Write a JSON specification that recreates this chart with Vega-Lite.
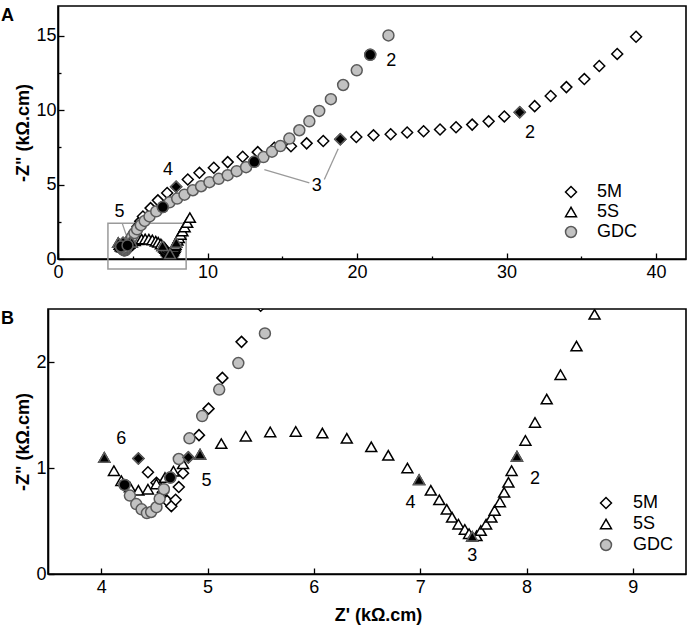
{
  "$schema": "https://vega.github.io/schema/vega-lite/v6.json",
  "padding": {"left": 0, "top": 5, "right": 2, "bottom": 2},
  "background": "white",
  "columns": 1,
  "spacing": 24,
  "config": {
    "font": "Liberation Sans",
    "view": {"stroke": "black", "strokeWidth": 1.6},
    "axis": {
      "grid": false, "domainColor": "black", "domainWidth": 1.6,
      "tickColor": "black", "tickWidth": 1.3,
      "labelFont": "Liberation Sans", "labelFontSize": 18, "labelColor": "black",
      "titleFont": "Liberation Sans", "titleFontSize": 18, "titleFontWeight": "bold", "titleColor": "black",
      "labelFlush": false, "labelOverlap": false
    },
    "legend": {
      "title": null, "symbolSize": 120, "symbolStrokeWidth": 1.5, "labelFontSize": 18,
      "labelFont": "Liberation Sans", "labelColor": "black", "padding": 0
    },
    "title": {"font": "Liberation Sans", "fontSize": 18, "fontWeight": "bold", "color": "black"}
  },
  "datasets": {
    "pts": [
      {"series": "5M", "x": 4.35, "y": 1.09, "m": 1},
      {"series": "5M", "x": 4.44, "y": 0.96, "m": 0},
      {"series": "5M", "x": 4.52, "y": 0.86, "m": 0},
      {"series": "5M", "x": 4.58, "y": 0.77, "m": 0},
      {"series": "5M", "x": 4.62, "y": 0.69, "m": 0},
      {"series": "5M", "x": 4.66, "y": 0.64, "m": 0},
      {"series": "5M", "x": 4.70, "y": 0.70, "m": 0},
      {"series": "5M", "x": 4.73, "y": 0.82, "m": 0},
      {"series": "5M", "x": 4.77, "y": 0.95, "m": 0},
      {"series": "5M", "x": 4.82, "y": 1.10, "m": 1},
      {"series": "5M", "x": 4.92, "y": 1.31, "m": 0},
      {"series": "5M", "x": 5.01, "y": 1.56, "m": 0},
      {"series": "5M", "x": 5.14, "y": 1.85, "m": 0},
      {"series": "5M", "x": 5.32, "y": 2.19, "m": 0},
      {"series": "5M", "x": 5.50, "y": 2.53, "m": 0},
      {"series": "5M", "x": 5.68, "y": 2.86, "m": 0},
      {"series": "5M", "x": 6.19, "y": 3.42, "m": 0},
      {"series": "5M", "x": 6.68, "y": 3.94, "m": 0},
      {"series": "5M", "x": 7.30, "y": 4.44, "m": 0},
      {"series": "5M", "x": 7.90, "y": 4.85, "m": 1},
      {"series": "5M", "x": 8.68, "y": 5.34, "m": 0},
      {"series": "5M", "x": 9.46, "y": 5.79, "m": 0},
      {"series": "5M", "x": 10.42, "y": 6.13, "m": 0},
      {"series": "5M", "x": 11.35, "y": 6.51, "m": 0},
      {"series": "5M", "x": 12.35, "y": 6.87, "m": 0},
      {"series": "5M", "x": 13.36, "y": 7.18, "m": 0},
      {"series": "5M", "x": 14.47, "y": 7.48, "m": 0},
      {"series": "5M", "x": 15.58, "y": 7.58, "m": 0},
      {"series": "5M", "x": 16.63, "y": 7.77, "m": 0},
      {"series": "5M", "x": 17.74, "y": 7.93, "m": 0},
      {"series": "5M", "x": 18.88, "y": 8.05, "m": 1},
      {"series": "5M", "x": 19.95, "y": 8.2, "m": 0},
      {"series": "5M", "x": 21.1, "y": 8.31, "m": 0},
      {"series": "5M", "x": 22.25, "y": 8.38, "m": 0},
      {"series": "5M", "x": 23.35, "y": 8.5, "m": 0},
      {"series": "5M", "x": 24.45, "y": 8.58, "m": 0},
      {"series": "5M", "x": 25.55, "y": 8.7, "m": 0},
      {"series": "5M", "x": 26.62, "y": 8.85, "m": 0},
      {"series": "5M", "x": 27.7, "y": 9.03, "m": 0},
      {"series": "5M", "x": 28.8, "y": 9.25, "m": 0},
      {"series": "5M", "x": 29.85, "y": 9.58, "m": 0},
      {"series": "5M", "x": 30.88, "y": 9.86, "m": 1},
      {"series": "5M", "x": 31.88, "y": 10.27, "m": 0},
      {"series": "5M", "x": 32.95, "y": 10.95, "m": 0},
      {"series": "5M", "x": 34.0, "y": 11.55, "m": 0},
      {"series": "5M", "x": 35.2, "y": 12.09, "m": 0},
      {"series": "5M", "x": 36.2, "y": 12.97, "m": 0},
      {"series": "5M", "x": 37.4, "y": 13.78, "m": 0},
      {"series": "5M", "x": 38.66, "y": 14.93, "m": 0},
      {"series": "5S", "x": 4.03, "y": 1.10, "m": 1},
      {"series": "5S", "x": 4.12, "y": 0.975, "m": 0},
      {"series": "5S", "x": 4.19, "y": 0.88, "m": 0},
      {"series": "5S", "x": 4.27, "y": 0.82, "m": 0},
      {"series": "5S", "x": 4.35, "y": 0.79, "m": 0},
      {"series": "5S", "x": 4.44, "y": 0.80, "m": 0},
      {"series": "5S", "x": 4.52, "y": 0.85, "m": 0},
      {"series": "5S", "x": 4.60, "y": 0.91, "m": 0},
      {"series": "5S", "x": 4.68, "y": 0.97, "m": 0},
      {"series": "5S", "x": 4.77, "y": 1.04, "m": 0},
      {"series": "5S", "x": 4.93, "y": 1.13, "m": 1},
      {"series": "5S", "x": 5.13, "y": 1.23, "m": 0},
      {"series": "5S", "x": 5.36, "y": 1.30, "m": 0},
      {"series": "5S", "x": 5.59, "y": 1.34, "m": 0},
      {"series": "5S", "x": 5.83, "y": 1.345, "m": 0},
      {"series": "5S", "x": 6.08, "y": 1.33, "m": 0},
      {"series": "5S", "x": 6.31, "y": 1.28, "m": 0},
      {"series": "5S", "x": 6.54, "y": 1.20, "m": 0},
      {"series": "5S", "x": 6.70, "y": 1.12, "m": 0},
      {"series": "5S", "x": 6.88, "y": 1.00, "m": 0},
      {"series": "5S", "x": 6.99, "y": 0.89, "m": 1},
      {"series": "5S", "x": 7.10, "y": 0.79, "m": 0},
      {"series": "5S", "x": 7.18, "y": 0.70, "m": 0},
      {"series": "5S", "x": 7.25, "y": 0.61, "m": 0},
      {"series": "5S", "x": 7.30, "y": 0.535, "m": 0},
      {"series": "5S", "x": 7.36, "y": 0.47, "m": 0},
      {"series": "5S", "x": 7.42, "y": 0.42, "m": 0},
      {"series": "5S", "x": 7.46, "y": 0.38, "m": 0},
      {"series": "5S", "x": 7.49, "y": 0.355, "m": 1},
      {"series": "5S", "x": 7.53, "y": 0.36, "m": 0},
      {"series": "5S", "x": 7.57, "y": 0.41, "m": 0},
      {"series": "5S", "x": 7.62, "y": 0.47, "m": 0},
      {"series": "5S", "x": 7.67, "y": 0.535, "m": 0},
      {"series": "5S", "x": 7.70, "y": 0.60, "m": 0},
      {"series": "5S", "x": 7.75, "y": 0.68, "m": 0},
      {"series": "5S", "x": 7.79, "y": 0.77, "m": 0},
      {"series": "5S", "x": 7.83, "y": 0.865, "m": 0},
      {"series": "5S", "x": 7.86, "y": 0.975, "m": 0},
      {"series": "5S", "x": 7.91, "y": 1.11, "m": 1},
      {"series": "5S", "x": 7.99, "y": 1.26, "m": 0},
      {"series": "5S", "x": 8.08, "y": 1.43, "m": 0},
      {"series": "5S", "x": 8.19, "y": 1.65, "m": 0},
      {"series": "5S", "x": 8.32, "y": 1.88, "m": 0},
      {"series": "5S", "x": 8.47, "y": 2.15, "m": 0},
      {"series": "5S", "x": 8.64, "y": 2.45, "m": 0},
      {"series": "5S", "x": 8.82, "y": 2.78, "m": 0},
      {"series": "GDC", "x": 4.22, "y": 0.84, "m": 1},
      {"series": "GDC", "x": 4.27, "y": 0.74, "m": 0},
      {"series": "GDC", "x": 4.33, "y": 0.66, "m": 0},
      {"series": "GDC", "x": 4.38, "y": 0.61, "m": 0},
      {"series": "GDC", "x": 4.43, "y": 0.575, "m": 0},
      {"series": "GDC", "x": 4.47, "y": 0.585, "m": 0},
      {"series": "GDC", "x": 4.52, "y": 0.63, "m": 0},
      {"series": "GDC", "x": 4.55, "y": 0.71, "m": 0},
      {"series": "GDC", "x": 4.59, "y": 0.80, "m": 0},
      {"series": "GDC", "x": 4.65, "y": 0.91, "m": 1},
      {"series": "GDC", "x": 4.73, "y": 1.085, "m": 0},
      {"series": "GDC", "x": 4.83, "y": 1.28, "m": 0},
      {"series": "GDC", "x": 4.95, "y": 1.49, "m": 0},
      {"series": "GDC", "x": 5.11, "y": 1.74, "m": 0},
      {"series": "GDC", "x": 5.29, "y": 1.99, "m": 0},
      {"series": "GDC", "x": 5.54, "y": 2.27, "m": 0},
      {"series": "GDC", "x": 5.80, "y": 2.56, "m": 0},
      {"series": "GDC", "x": 6.12, "y": 2.86, "m": 0},
      {"series": "GDC", "x": 6.57, "y": 3.2, "m": 0},
      {"series": "GDC", "x": 7.01, "y": 3.49, "m": 1},
      {"series": "GDC", "x": 7.46, "y": 3.81, "m": 0},
      {"series": "GDC", "x": 7.97, "y": 4.06, "m": 0},
      {"series": "GDC", "x": 8.46, "y": 4.32, "m": 0},
      {"series": "GDC", "x": 9.02, "y": 4.62, "m": 0},
      {"series": "GDC", "x": 9.57, "y": 4.89, "m": 0},
      {"series": "GDC", "x": 10.13, "y": 5.16, "m": 0},
      {"series": "GDC", "x": 10.75, "y": 5.39, "m": 0},
      {"series": "GDC", "x": 11.35, "y": 5.63, "m": 0},
      {"series": "GDC", "x": 11.95, "y": 5.9, "m": 0},
      {"series": "GDC", "x": 12.58, "y": 6.17, "m": 0},
      {"series": "GDC", "x": 13.13, "y": 6.53, "m": 1},
      {"series": "GDC", "x": 13.74, "y": 6.85, "m": 0},
      {"series": "GDC", "x": 14.31, "y": 7.21, "m": 0},
      {"series": "GDC", "x": 14.87, "y": 7.59, "m": 0},
      {"series": "GDC", "x": 15.47, "y": 8.09, "m": 0},
      {"series": "GDC", "x": 16.14, "y": 8.65, "m": 0},
      {"series": "GDC", "x": 16.81, "y": 9.25, "m": 0},
      {"series": "GDC", "x": 17.47, "y": 9.95, "m": 0},
      {"series": "GDC", "x": 18.25, "y": 10.74, "m": 0},
      {"series": "GDC", "x": 19.07, "y": 11.69, "m": 0},
      {"series": "GDC", "x": 19.98, "y": 12.68, "m": 0},
      {"series": "GDC", "x": 20.88, "y": 13.72, "m": 1},
      {"series": "GDC", "x": 22.1, "y": 15.02, "m": 0}
    ],
    "labelsA": [
      {"x": 7.35, "y": 6.0, "t": "4"},
      {"x": 4.12, "y": 3.13, "t": "5"},
      {"x": 17.3, "y": 4.89, "t": "3"},
      {"x": 22.28, "y": 13.33, "t": "2"},
      {"x": 31.56, "y": 8.49, "t": "2"}
    ],
    "leadersA": [
      {"x": 13.8, "y": 6.01, "xe": 16.81, "ye": 5.11},
      {"x": 17.81, "y": 5.34, "xe": 18.74, "ye": 7.41},
      {"x": 4.29, "y": 2.41, "xe": 4.56, "ye": 1.62}
    ],
    "boxA": [
      {"x": 3.34, "y": -0.68, "xe": 8.57, "ye": 2.41}
    ],
    "frameA": [
      {"x": 0, "y": 0, "xe": 42, "ye": 17}
    ],
    "labelsB": [
      {"x": 4.19, "y": 1.27, "t": "6"},
      {"x": 4.99, "y": 0.88, "t": "5"},
      {"x": 6.91, "y": 0.67, "t": "4"},
      {"x": 7.49, "y": 0.17, "t": "3"},
      {"x": 8.08, "y": 0.90, "t": "2"}
    ]
  },
  "concat": [
    {
      "width": 638,
      "height": 253,
      "view": {"stroke": null},
      "title": {"text": "A", "anchor": "start", "frame": "bounds", "offset": -20, "dx": -14},
      "encoding": {
        "x": {
          "field": "x", "type": "quantitative",
          "scale": {"domain": [0, 42], "nice": false, "zero": false, "range": [10, 638]},
          "axis": {
            "title": null,
            "values": [0, 5, 10, 15, 20, 25, 30, 35, 40],
            "labelExpr": "datum.value % 10 === 0 ? datum.label : ''",
            "tickSize": {"condition": {"test": "datum.value % 10 === 0", "value": -6}, "value": -3},
            "labelPadding": 10
          }
        },
        "y": {
          "field": "y", "type": "quantitative",
          "scale": {"domain": [0, 17], "nice": false, "zero": false},
          "axis": {
            "title": "-Z\" (kΩ.cm)",
            "offset": -10,
            "values": [0, 2.5, 5, 7.5, 10, 12.5, 15],
            "labelExpr": "datum.value % 5 === 0 ? datum.label : ''",
            "tickSize": {"condition": {"test": "datum.value % 5 === 0", "value": -6}, "value": -3},
            "labelPadding": 8,
            "titlePadding": 3
          }
        }
      },
      "layer": [
        {
          "data": {"name": "frameA"},
          "mark": {"type": "rect", "fill": "transparent", "stroke": "black", "strokeWidth": 1.6},
          "encoding": {"x2": {"field": "xe"}, "y2": {"field": "ye"}}
        },
        {
          "data": {"name": "boxA"},
          "mark": {"type": "rect", "fill": "transparent", "stroke": "#9a9a9a", "strokeWidth": 1.5},
          "encoding": {"x2": {"field": "xe"}, "y2": {"field": "ye"}}
        },
        {
          "data": {"name": "leadersA"},
          "mark": {"type": "rule", "stroke": "#9a9a9a", "strokeWidth": 1.3},
          "encoding": {"x2": {"field": "xe"}, "y2": {"field": "ye"}}
        },
        {
          "data": {"name": "pts"},
          "mark": {"type": "point", "filled": true, "opacity": 1, "strokeWidth": 1.5, "size": 120},
          "encoding": {
            "shape": {
              "field": "series", "type": "nominal",
              "scale": {"domain": ["5M", "5S", "GDC"], "range": ["diamond", "triangle-up", "circle"]},
              "legend": {"orient": "none", "legendX": 514, "legendY": 177, "labelOffset": 17, "rowPadding": 2}
            },
            "fill": {
              "field": "series", "type": "nominal",
              "scale": {"domain": ["5M", "5S", "GDC"], "range": ["white", "white", "#c2c2c2"]},
              "legend": {"orient": "none", "legendX": 514, "legendY": 177, "labelOffset": 17, "rowPadding": 2}
            },
            "stroke": {
              "field": "series", "type": "nominal",
              "scale": {"domain": ["5M", "5S", "GDC"], "range": ["black", "black", "#5a5a5a"]},
              "legend": {"orient": "none", "legendX": 514, "legendY": 177, "labelOffset": 17, "rowPadding": 2}
            }
          }
        },
        {
          "data": {"name": "pts"},
          "transform": [{"filter": "datum.m === 1"}],
          "mark": {"type": "point", "filled": true, "opacity": 1, "strokeWidth": 1.5, "size": 120, "fill": "black", "stroke": "#5e5e5e"},
          "encoding": {
            "shape": {"field": "series", "type": "nominal", "legend": null}
          }
        },
        {
          "data": {"name": "labelsA"},
          "mark": {"type": "text", "fontSize": 18, "font": "Liberation Sans", "color": "black", "align": "center", "baseline": "middle"},
          "encoding": {"text": {"field": "t"}}
        }
      ]
    },
    {
      "width": 638,
      "height": 265,
      "title": {"text": "B", "anchor": "start", "frame": "bounds", "offset": -19, "dx": -14},
      "encoding": {
        "x": {
          "field": "x", "type": "quantitative",
          "scale": {"domain": [3.5, 9.5], "nice": false, "zero": false},
          "axis": {
            "title": "Z' (kΩ.cm)",
            "values": [4, 4.5, 5, 5.5, 6, 6.5, 7, 7.5, 8, 8.5, 9],
            "format": "d",
            "labelExpr": "datum.value % 1 === 0 ? datum.label : ''",
            "tickSize": {"condition": {"test": "datum.value % 1 === 0", "value": -6}, "value": -3},
            "labelPadding": 10,
            "titlePadding": 10,
            "titleX": 330
          }
        },
        "y": {
          "field": "y", "type": "quantitative",
          "scale": {"domain": [0, 2.5], "nice": false, "zero": false},
          "axis": {
            "title": "-Z\" (kΩ.cm)",
            "values": [0, 0.5, 1, 1.5, 2],
            "format": "d",
            "labelExpr": "datum.value % 1 === 0 ? datum.label : ''",
            "tickSize": {"condition": {"test": "datum.value % 1 === 0", "value": -6}, "value": -3},
            "labelPadding": 8,
            "titlePadding": 3
          }
        }
      },
      "layer": [
        {
          "data": {"name": "pts"},
          "mark": {"type": "point", "filled": true, "opacity": 1, "strokeWidth": 1.5, "size": 120, "clip": true},
          "encoding": {
            "shape": {
              "field": "series", "type": "nominal",
              "scale": {"domain": ["5M", "5S", "GDC"], "range": ["diamond", "triangle-up", "circle"]},
              "legend": {"orient": "none", "legendX": 549, "legendY": 185, "labelOffset": 18, "rowPadding": 3}
            },
            "fill": {
              "field": "series", "type": "nominal",
              "scale": {"domain": ["5M", "5S", "GDC"], "range": ["white", "white", "#c2c2c2"]},
              "legend": {"orient": "none", "legendX": 549, "legendY": 185, "labelOffset": 18, "rowPadding": 3}
            },
            "stroke": {
              "field": "series", "type": "nominal",
              "scale": {"domain": ["5M", "5S", "GDC"], "range": ["black", "black", "#5a5a5a"]},
              "legend": {"orient": "none", "legendX": 549, "legendY": 185, "labelOffset": 18, "rowPadding": 3}
            }
          }
        },
        {
          "data": {"name": "pts"},
          "transform": [{"filter": "datum.m === 1"}],
          "mark": {"type": "point", "filled": true, "opacity": 1, "strokeWidth": 1.5, "size": 120, "fill": "black", "stroke": "#5e5e5e", "clip": true},
          "encoding": {
            "shape": {"field": "series", "type": "nominal", "legend": null}
          }
        },
        {
          "data": {"name": "labelsB"},
          "mark": {"type": "text", "fontSize": 18, "font": "Liberation Sans", "color": "black", "align": "center", "baseline": "middle"},
          "encoding": {"text": {"field": "t"}}
        }
      ]
    }
  ],
  "resolve": {
    "scale": {"shape": "independent", "fill": "independent", "stroke": "independent"},
    "legend": {"shape": "independent", "fill": "independent", "stroke": "independent"}
  }
}
